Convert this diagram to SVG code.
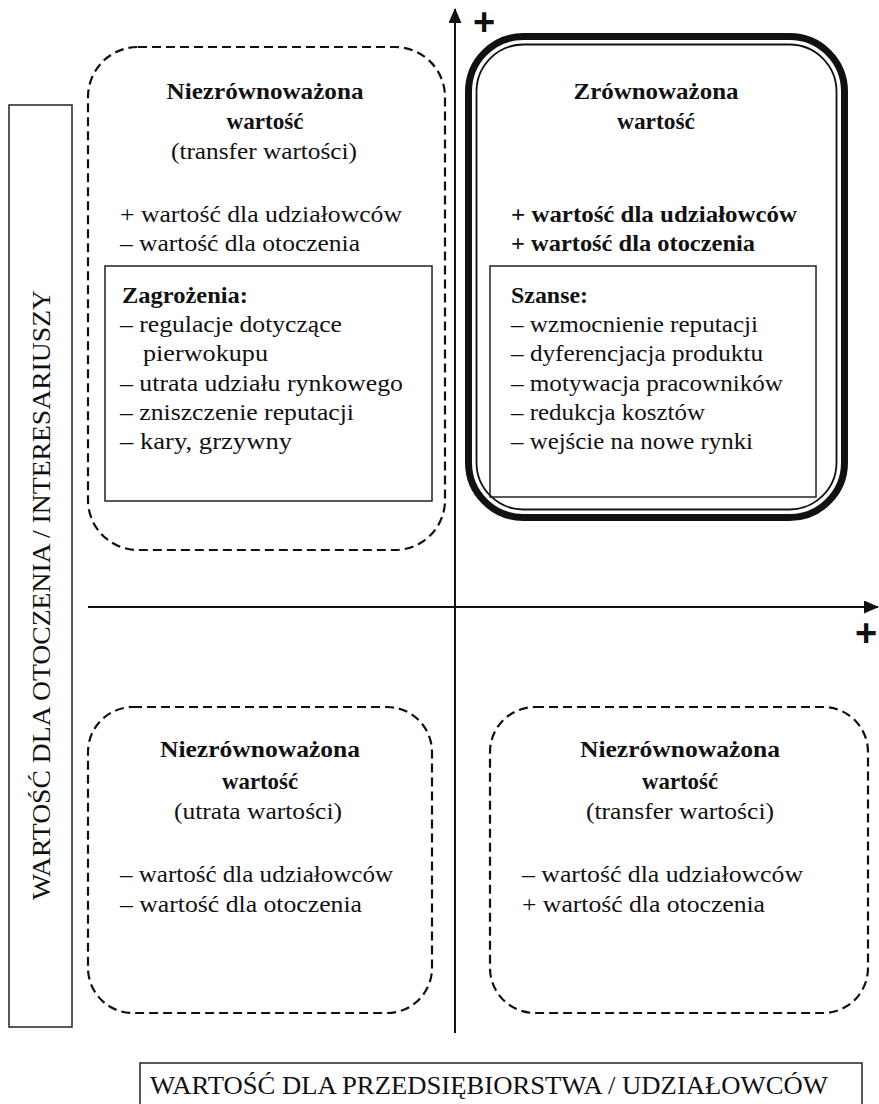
<svg xmlns="http://www.w3.org/2000/svg" width="879" height="1104" viewBox="0 0 879 1104">
<defs>
<style>
.t{font-family:"Liberation Serif","DejaVu Serif",serif;font-size:24px;fill:#111}
.b{font-weight:bold}
.c{text-anchor:middle}
.lab{font-family:"Liberation Serif","DejaVu Serif",serif;font-size:25px;fill:#111}
.dash{fill:none;stroke:#111;stroke-width:2.2;stroke-dasharray:9 5}
.box{fill:none;stroke:#222;stroke-width:1.5}
.ax{stroke:#111;stroke-width:2;fill:none}
.plus{font-family:"Liberation Sans","DejaVu Sans",sans-serif;font-size:38px;font-weight:bold;fill:#111;text-anchor:middle}
</style>
<marker id="arr" viewBox="0 0 15 13" refX="14" refY="6.5" markerWidth="15" markerHeight="13" markerUnits="userSpaceOnUse" orient="auto">
<path d="M0,0 L15,6.5 L0,13 Z" fill="#111"/>
</marker>
</defs>
<rect width="879" height="1104" fill="#fff"/>

<g id="axes">
<line class="ax" x1="455" y1="1033" x2="455" y2="9" marker-end="url(#arr)"/>
<line class="ax" x1="88" y1="607" x2="878" y2="607" marker-end="url(#arr)"/>
<text class="plus" x="484" y="35">+</text>
<text class="plus" x="866" y="646">+</text>
</g>

<g id="label-y">
<rect class="box" x="9" y="105" width="63" height="922"/>
<text class="lab" transform="translate(50,595) rotate(-90)" text-anchor="middle" textLength="610" lengthAdjust="spacingAndGlyphs">WARTOŚĆ DLA OTOCZENIA / INTERESARIUSZY</text>
</g>

<g id="label-x">
<rect class="box" x="140" y="1063" width="722" height="60"/>
<text class="lab" x="150" y="1094" textLength="678" lengthAdjust="spacingAndGlyphs">WARTOŚĆ DLA PRZEDSIĘBIORSTWA / UDZIAŁOWCÓW</text>
</g>

<g id="q-top-left">
<rect class="dash" x="88" y="47" width="357" height="503" rx="50"/>
<rect class="box" x="105" y="266" width="327" height="235"/>
<text class="t b c" x="265" y="99" textLength="197" lengthAdjust="spacingAndGlyphs">Niezrównoważona</text>
<text class="t b c" x="265" y="129" textLength="77" lengthAdjust="spacingAndGlyphs">wartość</text>
<text class="t c" x="264" y="159" textLength="186" lengthAdjust="spacingAndGlyphs">(transfer wartości)</text>
<text class="t" x="120" y="222" textLength="282" lengthAdjust="spacingAndGlyphs">+ wartość dla udziałowców</text>
<text class="t" x="120" y="251" textLength="240" lengthAdjust="spacingAndGlyphs">– wartość dla otoczenia</text>
<text class="t b" x="122" y="303" textLength="126" lengthAdjust="spacingAndGlyphs">Zagrożenia:</text>
<text class="t" x="120" y="332" textLength="222" lengthAdjust="spacingAndGlyphs">– regulacje dotyczące</text>
<text class="t" x="143" y="361" textLength="125" lengthAdjust="spacingAndGlyphs">pierwokupu</text>
<text class="t" x="120" y="391" textLength="283" lengthAdjust="spacingAndGlyphs">– utrata udziału rynkowego</text>
<text class="t" x="120" y="420" textLength="234" lengthAdjust="spacingAndGlyphs">– zniszczenie reputacji</text>
<text class="t" x="120" y="449" textLength="172" lengthAdjust="spacingAndGlyphs">– kary, grzywny</text>
</g>

<g id="q-top-right">
<rect x="468.5" y="36.5" width="376" height="481" rx="55" fill="none" stroke="#111" stroke-width="7"/>
<rect x="476.5" y="44.5" width="360" height="465" rx="47" fill="none" stroke="#111" stroke-width="1.8"/>
<rect class="box" x="490" y="266" width="326" height="231"/>
<text class="t b c" x="656" y="99" textLength="165" lengthAdjust="spacingAndGlyphs">Zrównoważona</text>
<text class="t b c" x="656" y="129" textLength="78" lengthAdjust="spacingAndGlyphs">wartość</text>
<text class="t b" x="511" y="222" textLength="286" lengthAdjust="spacingAndGlyphs">+ wartość dla udziałowców</text>
<text class="t b" x="511" y="251" textLength="244" lengthAdjust="spacingAndGlyphs">+ wartość dla otoczenia</text>
<text class="t b" x="511" y="303" textLength="77" lengthAdjust="spacingAndGlyphs">Szanse:</text>
<text class="t" x="511" y="332" textLength="247" lengthAdjust="spacingAndGlyphs">– wzmocnienie reputacji</text>
<text class="t" x="511" y="361" textLength="252" lengthAdjust="spacingAndGlyphs">– dyferencjacja produktu</text>
<text class="t" x="511" y="391" textLength="272" lengthAdjust="spacingAndGlyphs">– motywacja pracowników</text>
<text class="t" x="511" y="420" textLength="194" lengthAdjust="spacingAndGlyphs">– redukcja kosztów</text>
<text class="t" x="511" y="449" textLength="242" lengthAdjust="spacingAndGlyphs">– wejście na nowe rynki</text>
</g>

<g id="q-bottom-left">
<rect class="dash" x="88" y="707" width="344" height="306" rx="45"/>
<text class="t b c" x="260" y="757" textLength="200" lengthAdjust="spacingAndGlyphs">Niezrównoważona</text>
<text class="t b c" x="260" y="789" textLength="76" lengthAdjust="spacingAndGlyphs">wartość</text>
<text class="t c" x="258" y="819" textLength="168" lengthAdjust="spacingAndGlyphs">(utrata wartości)</text>
<text class="t" x="120" y="882" textLength="273" lengthAdjust="spacingAndGlyphs">– wartość dla udziałowców</text>
<text class="t" x="120" y="912" textLength="242" lengthAdjust="spacingAndGlyphs">– wartość dla otoczenia</text>
</g>

<g id="q-bottom-right">
<rect class="dash" x="490" y="707" width="378" height="306" rx="45"/>
<text class="t b c" x="680" y="757" textLength="200" lengthAdjust="spacingAndGlyphs">Niezrównoważona</text>
<text class="t b c" x="680" y="789" textLength="76" lengthAdjust="spacingAndGlyphs">wartość</text>
<text class="t c" x="680" y="819" textLength="188" lengthAdjust="spacingAndGlyphs">(transfer wartości)</text>
<text class="t" x="522" y="882" textLength="281" lengthAdjust="spacingAndGlyphs">– wartość dla udziałowców</text>
<text class="t" x="522" y="912" textLength="243" lengthAdjust="spacingAndGlyphs">+ wartość dla otoczenia</text>
</g>
</svg>
